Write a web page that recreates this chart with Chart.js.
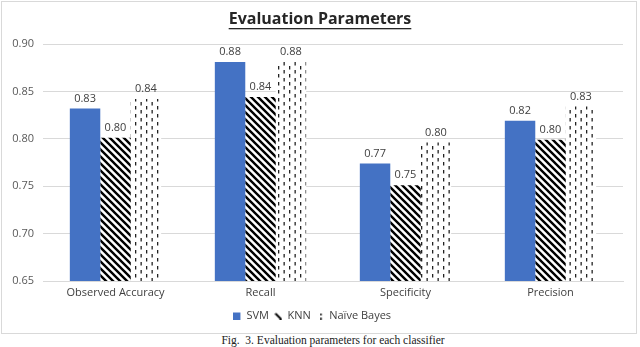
<!DOCTYPE html>
<html>
<head>
<meta charset="utf-8">
<script src="https://cdn.jsdelivr.net/npm/chart.js@4"></script>
<style>
  body { margin: 0; background: #fff; width: 640px; height: 347px; position: relative; overflow: hidden; }
  #box { position: absolute; left: 1px; top: 1px; width: 634px; height: 331px; border: 1px solid #d9d9d9; }
  #caption { position: absolute; left: 0; width: 666px; top: 334px; text-align: center;
    font-family: "Liberation Serif", serif; font-size: 11.5px; color: #222; }
</style>
</head>
<body>
<div id="box"><canvas id="chart" width="634" height="331"></canvas></div>
<div id="caption">Fig.&nbsp; 3. Evaluation parameters for each classifier</div>
<script>
const categories = ['Observed Accuracy', 'Recall', 'Specificity', 'Precision'];
const svm = [0.832, 0.881, 0.774, 0.819];
const knn = [0.801, 0.844, 0.751, 0.799];
const naiveBayes = [0.842, 0.881, 0.796, 0.834];
const yTicks = [0.65, 0.70, 0.75, 0.80, 0.85, 0.90];

const font = '"Open Sans", "Noto Sans", sans-serif';

// hatch for KNN: black "\" stripes
const makeStripes = () => {
    const c = document.createElement('canvas');
    c.width = 7; c.height = 7;
    const g = c.getContext('2d');
    g.fillStyle = '#fff';
    g.fillRect(0, 0, 7, 7);
    g.strokeStyle = '#000';
    g.lineWidth = 2.4;
    g.beginPath();
    g.moveTo(-2, -2); g.lineTo(9, 9);
    g.moveTo(-9, -2); g.lineTo(2, 9);
    g.moveTo(5, -2); g.lineTo(16, 9);
    g.stroke();
    return g.createPattern(c, 'repeat');
};

// dashes for Naive Bayes
const makeDashes = () => {
    const c = document.createElement('canvas');
    c.width = 11; c.height = 8;
    const g = c.getContext('2d');
    g.fillStyle = '#fff';
    g.fillRect(0, 0, 11, 8);
    g.fillStyle = '#222';
    g.fillRect(1, 0, 1.3, 3.5);
    g.fillRect(6.5, 4, 1.3, 3.5);
    return g.createPattern(c, 'repeat');
};

const legendIcon = kind => {
    const c = document.createElement('canvas');
    c.width = 8; c.height = 8;
    const g = c.getContext('2d');
    if (kind === 'svm') {
        g.fillStyle = '#4472C4';
        g.fillRect(0, 1, 7, 7);
    } else if (kind === 'knn') {
        g.strokeStyle = '#000';
        g.lineWidth = 2;
        g.beginPath(); g.moveTo(1, 2); g.lineTo(7, 8); g.stroke();
    } else {
        g.fillStyle = '#111';
        g.fillRect(4, 2, 1.5, 2);
        g.fillRect(4, 6, 1.5, 2);
    }
    return c;
};

const valueLabels = {
    id: 'valueLabels',
    afterDatasetsDraw(chart) {
        const ctx = chart.ctx;
        ctx.save();
        ctx.font = '11px ' + font;
        ctx.fillStyle = '#404040';
        ctx.textAlign = 'center';
        ctx.textBaseline = 'middle';
        chart.data.datasets.forEach((ds, i) => {
            chart.getDatasetMeta(i).data.forEach((bar, j) => {
                ctx.fillText(ds.data[j].toFixed(2), bar.x, bar.y - 10);
            });
        });
        ctx.restore();
    }
};

const underlinedTitle = {
    id: 'underlinedTitle',
    afterDraw(chart) {
        const ctx = chart.ctx;
        const text = 'Evaluation Parameters';
        ctx.save();
        ctx.font = 'bold 16px ' + font;
        ctx.fillStyle = '#262626';
        ctx.textAlign = 'center';
        ctx.textBaseline = 'middle';
        const cx = 318;
        ctx.fillText(text, cx, 17);
        const w = ctx.measureText(text).width;
        ctx.fillRect(cx - w / 2, 26, w, 1.3);
        ctx.restore();
    }
};

new Chart(document.getElementById('chart'), {
    type: 'bar',
    data: {
        labels: categories,
        datasets: [
            { label: 'SVM', data: svm, backgroundColor: '#4472C4' },
            { label: 'KNN', data: knn, backgroundColor: makeStripes() },
            { label: 'Naïve Bayes', data: naiveBayes, backgroundColor: makeDashes() }
        ]
    },
    options: {
        responsive: false,
        animation: false,
        devicePixelRatio: 1,
        datasets: { bar: { categoryPercentage: 0.63, barPercentage: 1 } },
        layout: { padding: { top: 42, right: 13, bottom: 2, left: 0 } },
        plugins: {
            tooltip: { enabled: false },
            legend: {
                position: 'bottom',
                labels: {
                    color: '#404040',
                    font: { size: 11, family: font },
                    padding: 6,
                    boxWidth: 7,
                    boxHeight: 7,
                    usePointStyle: true,
                    generateLabels: () => ['svm', 'knn', 'nb'].map((k, i) => ({
                        text: ['SVM', 'KNN', 'Naïve Bayes'][i],
                        pointStyle: legendIcon(k),
                        fillStyle: 'transparent',
                        strokeStyle: 'transparent',
                        lineWidth: 0,
                        fontColor: '#404040',
                        datasetIndex: i
                    }))
                }
            }
        },
        scales: {
            x: {
                grid: { display: false, drawTicks: false },
                border: { display: true, color: '#d9d9d9' },
                ticks: { color: '#404040', font: { size: 11, family: font }, padding: 5 },
                afterFit: s => { s.height = 23; }
            },
            y: {
                min: 0.65,
                max: 0.9,
                afterBuildTicks: s => { s.ticks = yTicks.map(v => ({ value: v })); },
                grid: { color: '#d9d9d9', drawTicks: false },
                border: { display: false },
                ticks: {
                    color: '#595959',
                    font: { size: 11, family: font },
                    padding: 9,
                    callback: v => v.toFixed(2)
                },
                afterFit: s => { s.width = 41; }
            }
        }
    },
    plugins: [valueLabels, underlinedTitle]
});
</script>
</body>
</html>
